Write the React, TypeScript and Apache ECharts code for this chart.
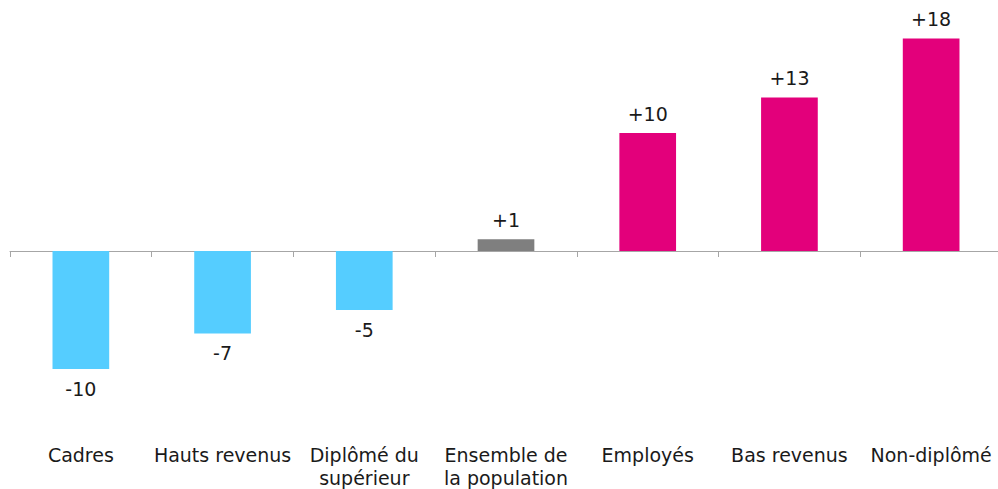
import React, { useEffect, useRef } from "react";
import * as echarts from "echarts";

const categories = [
  "Cadres",
  "Hauts revenus",
  "Diplômé du\nsupérieur",
  "Ensemble de\nla population",
  "Employés",
  "Bas revenus",
  "Non-diplômé",
];
const values = [-10, -7, -5, 1, 10, 13, 18];
const colors = ["#55CDFF", "#55CDFF", "#55CDFF", "#7F7F7F", "#E3007B", "#E3007B", "#E3007B"];

const FONT = "DejaVu Sans, Verdana, sans-serif";

export default function App() {
  const ref = useRef<HTMLDivElement>(null);
  useEffect(() => {
    if (!ref.current) return;
    const chart = echarts.init(ref.current, null, { renderer: "svg" });
    chart.setOption({
      animation: false,
      backgroundColor: "#ffffff",
      grid: { left: 10, right: 2, top: 15, bottom: 59, containLabel: false },
      xAxis: [
        {
          type: "category",
          data: categories,
          axisLine: { onZero: true, lineStyle: { color: "#A6A6A6", width: 1 } },
          axisTick: { show: true, length: 6, lineStyle: { color: "#A6A6A6" } },
          axisLabel: { show: false },
        },
        {
          type: "category",
          data: categories,
          position: "bottom",
          axisLine: { show: false, onZero: false },
          axisTick: { show: false },
          axisLabel: {
            show: true,
            margin: 15,
            interval: 0,
            color: "#1a1a1a",
            fontFamily: FONT,
            fontSize: 19,
            lineHeight: 23,
            verticalAlign: "top",
          },
        },
      ],
      yAxis: {
        type: "value",
        min: -15,
        max: 20,
        show: false,
        splitLine: { show: false },
      },
      series: [
        {
          type: "bar",
          xAxisIndex: 0,
          barWidth: "40%",
          data: values.map((v, i) => ({
            value: v,
            itemStyle: { color: colors[i] },
            label: {
              show: true,
              position: v >= 0 ? "top" : "bottom",
              distance: 10,
              formatter: (v > 0 ? "+" : "") + v,
              color: "#1a1a1a",
              fontFamily: FONT,
              fontSize: 19,
            },
          })),
        },
      ],
    });
    return () => chart.dispose();
  }, []);
  return (
    <div
      ref={ref}
      style={{ position: "fixed", left: 0, top: 0, width: 1004, height: 489, background: "#fff" }}
    />
  );
}
